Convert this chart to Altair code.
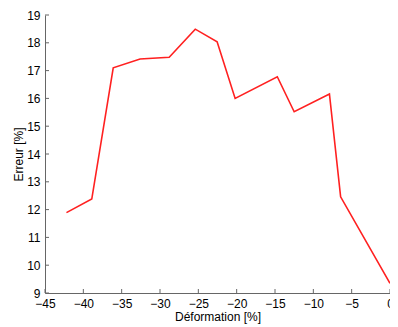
import altair as alt
import pandas as pd

deformation = [-42.2, -38.9, -36.1, -32.6, -28.8, -25.4, -22.55, -20.2, -14.7, -12.5, -7.9, -6.44, 0.0]
erreur = [11.89, 12.38, 17.10, 17.42, 17.48, 18.49, 18.04, 16.00, 16.78, 15.52, 16.16, 12.46, 9.35]
x_ticks = [-45, -40, -35, -30, -25, -20, -15, -10, -5, 0]
y_ticks = [9, 10, 11, 12, 13, 14, 15, 16, 17, 18, 19]

df = pd.DataFrame({"x": deformation, "y": erreur})
W, H = 345, 278
FONT = "Liberation Sans"
AX = "#666666"

xscale = alt.Scale(domain=[-45, 0], nice=False, zero=False)
yscale = alt.Scale(domain=[9, 19], nice=False, zero=False)

common = dict(tickSize=0, grid=False, domainColor=AX, labelFont=FONT, titleFont=FONT,
              labelFontSize=12, titleFontSize=12, labelColor="black", titleColor="black",
              titleFontWeight="normal", labelFlush=False, labelOverlap=False)
x_axis = alt.Axis(values=x_ticks, title="Déformation [%]", labelPadding=5, titlePadding=2, **common)
y_axis = alt.Axis(values=y_ticks, title="Erreur [%]", labelPadding=5, titlePadding=1, **common)

line = alt.Chart(df).mark_line(color="#ff2020", strokeWidth=1.6).encode(
    x=alt.X("x:Q", scale=xscale, axis=x_axis, title="Déformation [%]"),
    y=alt.Y("y:Q", scale=yscale, axis=y_axis, title="Erreur [%]"),
)

xt = alt.Chart(pd.DataFrame({"t": x_ticks})).mark_rule(color=AX, strokeWidth=1).encode(
    x=alt.X("t:Q", scale=xscale, axis=x_axis, title="Déformation [%]"),
    y=alt.value(H - 4), y2=alt.value(H))
yt = alt.Chart(pd.DataFrame({"t": y_ticks})).mark_rule(color=AX, strokeWidth=1).encode(
    y=alt.Y("t:Q", scale=yscale, axis=y_axis, title="Erreur [%]"),
    x=alt.value(0), x2=alt.value(4))

chart = alt.layer(line, xt, yt).properties(
    width=W, height=H,
    background="white",
    autosize=alt.AutoSizeParams(type="none"),
    padding={"left": 37, "top": 7, "right": 0, "bottom": 34},
).configure_view(stroke=None)

chart.save("out.html", embed_options={"renderer": "svg", "actions": False})
